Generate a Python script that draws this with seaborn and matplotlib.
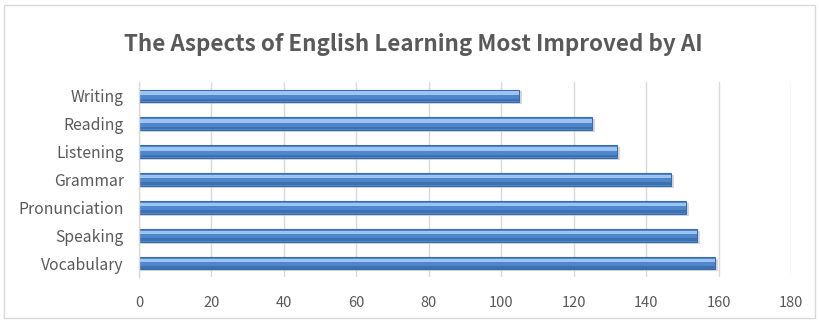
import matplotlib
matplotlib.use("Agg")
import matplotlib.pyplot as plt
import seaborn as sns
import pandas as pd
from matplotlib.patches import Rectangle

categories = ["Writing", "Reading", "Listening", "Grammar", "Pronunciation", "Speaking", "Vocabulary"]
values = [105, 125, 132, 147, 151, 154, 159]
xticks = [0, 20, 40, 60, 80, 100, 120, 140, 160, 180]
title = "The Aspects of English Learning Most Improved by AI"

df = pd.DataFrame({"aspect": categories, "count": values})

sns.set_theme(style="white")
plt.rcParams["font.family"] = ["Noto Sans CJK KR", "DejaVu Sans"]

fig = plt.figure(figsize=(8.19, 3.22), dpi=100)
ax = fig.add_axes([139 / 819, 1 - 277 / 322, 652 / 819, 195 / 322])

n = len(categories)
# soft shadow
sns.barplot(data=df, y="aspect", x="count", order=categories, orient="h",
            color="#C8C8C8", saturation=1, width=0.46, linewidth=0, ax=ax)
for p in ax.patches[0:n]:
    p.set_y(p.get_y() + 0.07)
    p.set_width(p.get_width() + 0.8)
    p.set_alpha(0.7)
# main bar
sns.barplot(data=df, y="aspect", x="count", order=categories, orient="h",
            color="#4F87CD", saturation=1, width=0.46, edgecolor="#3A6BAA",
            linewidth=0.8, ax=ax)
# dark lower stripe
sns.barplot(data=df, y="aspect", x="count", order=categories, orient="h",
            color="#3F71B2", saturation=1, width=0.09, linewidth=0, ax=ax)
for p in ax.patches[2 * n:3 * n]:
    p.set_y(p.get_y() + 0.15)
# light highlight stripe
sns.barplot(data=df, y="aspect", x="count", order=categories, orient="h",
            color="#9DC4F0", saturation=1, width=0.12, linewidth=0, ax=ax)
for p in ax.patches[3 * n:4 * n]:
    p.set_y(p.get_y() - 0.10)

ax.set_xlim(0, 180)
ax.set_ylim(6.5, -0.5)
ax.set_xticks(xticks)
ax.set_xticklabels([str(t) for t in xticks])
ax.set_xlabel("")
ax.set_ylabel("")
ax.grid(axis="x", color="#D9D9D9", linewidth=1)
ax.set_axisbelow(True)
for s in ["top", "right", "bottom"]:
    ax.spines[s].set_visible(False)
ax.spines["left"].set_color("#D9D9D9")
ax.spines["left"].set_linewidth(1)
ax.tick_params(axis="both", length=0, labelcolor="#595959")
ax.tick_params(axis="x", pad=14, labelsize=10.5)
ax.tick_params(axis="y", pad=11, labelsize=11.3)

fig.text(0.505, 1 - 45 / 322, title, ha="center", va="center",
         fontsize=16.1, fontweight="bold", color="#595959")

fig.patches.append(Rectangle((4 / 819, 4 / 322), 811 / 819, 313 / 322,
                             transform=fig.transFigure, fill=False,
                             edgecolor="#D9D9D9", linewidth=1))

fig.savefig("out.png", dpi=100)
